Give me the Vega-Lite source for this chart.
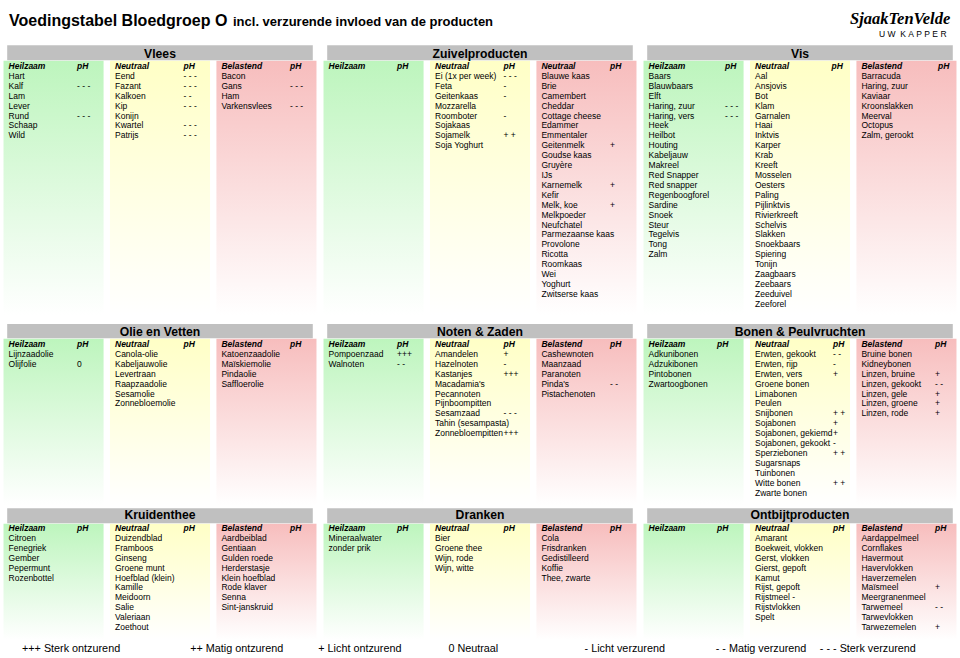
{
"$schema":"https://vega.github.io/schema/vega-lite/v6.json",
"padding":0,
"bounds":"flush",
"background":"#ffffff",
"spacing":0,
"config":{"view":{"stroke":null},"axis":{"disable":true},"legend":{"disable":true},"text":{"font":"Liberation Sans","color":"#000000"}},
"datasets":{
"titels":[
{"part":"titel","t":"Voedingstabel Bloedgroep O"},
{"part":"sub","t":"incl. verzurende invloed van de producten"},
{"part":"logo","t":"SjaakTenVelde"},
{"part":"kapper","t":"U\u00a0W\u00a0\u00a0K\u00a0A\u00a0P\u00a0P\u00a0E\u00a0R"}
],
"legenda":[
{"label":"+++ Sterk ontzurend"},
{"label":"++ Matig ontzurend"},
{"label":"+ Licht ontzurend"},
{"label":"0 Neutraal"},
{"label":"- Licht verzurend"},
{"label":"- - Matig verzurend"},
{"label":"- - - Sterk verzurend"}
],
"heads":[
{"sec":"Vlees","kind":"Heilzaam","label":"Heilzaam"},{"sec":"Vlees","kind":"Neutraal","label":"Neutraal"},{"sec":"Vlees","kind":"Belastend","label":"Belastend"},
{"sec":"Zuivelproducten","kind":"Heilzaam","label":"Heilzaam"},{"sec":"Zuivelproducten","kind":"Neutraal","label":"Neutraal"},{"sec":"Zuivelproducten","kind":"Belastend","label":"Neutraal"},
{"sec":"Vis","kind":"Heilzaam","label":"Heilzaam"},{"sec":"Vis","kind":"Neutraal","label":"Neutraal"},{"sec":"Vis","kind":"Belastend","label":"Belastend"},
{"sec":"Olie en Vetten","kind":"Heilzaam","label":"Heilzaam"},{"sec":"Olie en Vetten","kind":"Neutraal","label":"Neutraal"},{"sec":"Olie en Vetten","kind":"Belastend","label":"Belastend"},
{"sec":"Noten & Zaden","kind":"Heilzaam","label":"Heilzaam"},{"sec":"Noten & Zaden","kind":"Neutraal","label":"Neutraal"},{"sec":"Noten & Zaden","kind":"Belastend","label":"Belastend"},
{"sec":"Bonen & Peulvruchten","kind":"Heilzaam","label":"Heilzaam"},{"sec":"Bonen & Peulvruchten","kind":"Neutraal","label":"Neutraal"},{"sec":"Bonen & Peulvruchten","kind":"Belastend","label":"Belastend"},
{"sec":"Kruidenthee","kind":"Heilzaam","label":"Heilzaam"},{"sec":"Kruidenthee","kind":"Neutraal","label":"Neutraal"},{"sec":"Kruidenthee","kind":"Belastend","label":"Belastend"},
{"sec":"Dranken","kind":"Heilzaam","label":"Heilzaam"},{"sec":"Dranken","kind":"Neutraal","label":"Neutraal"},{"sec":"Dranken","kind":"Belastend","label":"Belastend"},
{"sec":"Ontbijtproducten","kind":"Heilzaam","label":"Heilzaam"},{"sec":"Ontbijtproducten","kind":"Neutraal","label":"Neutraal"},{"sec":"Ontbijtproducten","kind":"Belastend","label":"Belastend"}
],
"items":[
{"sec":"Vlees","kind":"Heilzaam","i":0,"name":"Hart"},
{"sec":"Vlees","kind":"Heilzaam","i":1,"name":"Kalf","ph":"- - -"},
{"sec":"Vlees","kind":"Heilzaam","i":2,"name":"Lam"},
{"sec":"Vlees","kind":"Heilzaam","i":3,"name":"Lever"},
{"sec":"Vlees","kind":"Heilzaam","i":4,"name":"Rund","ph":"- - -"},
{"sec":"Vlees","kind":"Heilzaam","i":5,"name":"Schaap"},
{"sec":"Vlees","kind":"Heilzaam","i":6,"name":"Wild"},
{"sec":"Vlees","kind":"Neutraal","i":0,"name":"Eend","ph":"- - -"},
{"sec":"Vlees","kind":"Neutraal","i":1,"name":"Fazant","ph":"- - -"},
{"sec":"Vlees","kind":"Neutraal","i":2,"name":"Kalkoen","ph":"- -"},
{"sec":"Vlees","kind":"Neutraal","i":3,"name":"Kip","ph":"- - -"},
{"sec":"Vlees","kind":"Neutraal","i":4,"name":"Konijn"},
{"sec":"Vlees","kind":"Neutraal","i":5,"name":"Kwartel","ph":"- - -"},
{"sec":"Vlees","kind":"Neutraal","i":6,"name":"Patrijs","ph":"- - -"},
{"sec":"Vlees","kind":"Belastend","i":0,"name":"Bacon"},
{"sec":"Vlees","kind":"Belastend","i":1,"name":"Gans","ph":"- - -"},
{"sec":"Vlees","kind":"Belastend","i":2,"name":"Ham"},
{"sec":"Vlees","kind":"Belastend","i":3,"name":"Varkensvlees","ph":"- - -"},
{"sec":"Zuivelproducten","kind":"Neutraal","i":0,"name":"Ei (1x per week)","ph":"- - -"},
{"sec":"Zuivelproducten","kind":"Neutraal","i":1,"name":"Feta","ph":"-"},
{"sec":"Zuivelproducten","kind":"Neutraal","i":2,"name":"Geitenkaas","ph":"-"},
{"sec":"Zuivelproducten","kind":"Neutraal","i":3,"name":"Mozzarella"},
{"sec":"Zuivelproducten","kind":"Neutraal","i":4,"name":"Roomboter","ph":"-"},
{"sec":"Zuivelproducten","kind":"Neutraal","i":5,"name":"Sojakaas"},
{"sec":"Zuivelproducten","kind":"Neutraal","i":6,"name":"Sojamelk","ph":"+ +"},
{"sec":"Zuivelproducten","kind":"Neutraal","i":7,"name":"Soja Yoghurt"},
{"sec":"Zuivelproducten","kind":"Belastend","i":0,"name":"Blauwe kaas"},
{"sec":"Zuivelproducten","kind":"Belastend","i":1,"name":"Brie"},
{"sec":"Zuivelproducten","kind":"Belastend","i":2,"name":"Camembert"},
{"sec":"Zuivelproducten","kind":"Belastend","i":3,"name":"Cheddar"},
{"sec":"Zuivelproducten","kind":"Belastend","i":4,"name":"Cottage cheese"},
{"sec":"Zuivelproducten","kind":"Belastend","i":5,"name":"Edammer"},
{"sec":"Zuivelproducten","kind":"Belastend","i":6,"name":"Emmentaler"},
{"sec":"Zuivelproducten","kind":"Belastend","i":7,"name":"Geitenmelk","ph":"+"},
{"sec":"Zuivelproducten","kind":"Belastend","i":8,"name":"Goudse kaas"},
{"sec":"Zuivelproducten","kind":"Belastend","i":9,"name":"Gruyère"},
{"sec":"Zuivelproducten","kind":"Belastend","i":10,"name":"IJs"},
{"sec":"Zuivelproducten","kind":"Belastend","i":11,"name":"Karnemelk","ph":"+"},
{"sec":"Zuivelproducten","kind":"Belastend","i":12,"name":"Kefir"},
{"sec":"Zuivelproducten","kind":"Belastend","i":13,"name":"Melk, koe","ph":"+"},
{"sec":"Zuivelproducten","kind":"Belastend","i":14,"name":"Melkpoeder"},
{"sec":"Zuivelproducten","kind":"Belastend","i":15,"name":"Neufchatel"},
{"sec":"Zuivelproducten","kind":"Belastend","i":16,"name":"Parmezaanse kaas"},
{"sec":"Zuivelproducten","kind":"Belastend","i":17,"name":"Provolone"},
{"sec":"Zuivelproducten","kind":"Belastend","i":18,"name":"Ricotta"},
{"sec":"Zuivelproducten","kind":"Belastend","i":19,"name":"Roomkaas"},
{"sec":"Zuivelproducten","kind":"Belastend","i":20,"name":"Wei"},
{"sec":"Zuivelproducten","kind":"Belastend","i":21,"name":"Yoghurt"},
{"sec":"Zuivelproducten","kind":"Belastend","i":22,"name":"Zwitserse kaas"},
{"sec":"Vis","kind":"Heilzaam","i":0,"name":"Baars"},
{"sec":"Vis","kind":"Heilzaam","i":1,"name":"Blauwbaars"},
{"sec":"Vis","kind":"Heilzaam","i":2,"name":"Elft"},
{"sec":"Vis","kind":"Heilzaam","i":3,"name":"Haring, zuur","ph":"- - -"},
{"sec":"Vis","kind":"Heilzaam","i":4,"name":"Haring, vers","ph":"- - -"},
{"sec":"Vis","kind":"Heilzaam","i":5,"name":"Heek"},
{"sec":"Vis","kind":"Heilzaam","i":6,"name":"Heilbot"},
{"sec":"Vis","kind":"Heilzaam","i":7,"name":"Houting"},
{"sec":"Vis","kind":"Heilzaam","i":8,"name":"Kabeljauw"},
{"sec":"Vis","kind":"Heilzaam","i":9,"name":"Makreel"},
{"sec":"Vis","kind":"Heilzaam","i":10,"name":"Red Snapper"},
{"sec":"Vis","kind":"Heilzaam","i":11,"name":"Red snapper"},
{"sec":"Vis","kind":"Heilzaam","i":12,"name":"Regenboogforel"},
{"sec":"Vis","kind":"Heilzaam","i":13,"name":"Sardine"},
{"sec":"Vis","kind":"Heilzaam","i":14,"name":"Snoek"},
{"sec":"Vis","kind":"Heilzaam","i":15,"name":"Steur"},
{"sec":"Vis","kind":"Heilzaam","i":16,"name":"Tegelvis"},
{"sec":"Vis","kind":"Heilzaam","i":17,"name":"Tong"},
{"sec":"Vis","kind":"Heilzaam","i":18,"name":"Zalm"},
{"sec":"Vis","kind":"Neutraal","i":0,"name":"Aal"},
{"sec":"Vis","kind":"Neutraal","i":1,"name":"Ansjovis"},
{"sec":"Vis","kind":"Neutraal","i":2,"name":"Bot"},
{"sec":"Vis","kind":"Neutraal","i":3,"name":"Klam"},
{"sec":"Vis","kind":"Neutraal","i":4,"name":"Garnalen"},
{"sec":"Vis","kind":"Neutraal","i":5,"name":"Haai"},
{"sec":"Vis","kind":"Neutraal","i":6,"name":"Inktvis"},
{"sec":"Vis","kind":"Neutraal","i":7,"name":"Karper"},
{"sec":"Vis","kind":"Neutraal","i":8,"name":"Krab"},
{"sec":"Vis","kind":"Neutraal","i":9,"name":"Kreeft"},
{"sec":"Vis","kind":"Neutraal","i":10,"name":"Mosselen"},
{"sec":"Vis","kind":"Neutraal","i":11,"name":"Oesters"},
{"sec":"Vis","kind":"Neutraal","i":12,"name":"Paling"},
{"sec":"Vis","kind":"Neutraal","i":13,"name":"Pijlinktvis"},
{"sec":"Vis","kind":"Neutraal","i":14,"name":"Rivierkreeft"},
{"sec":"Vis","kind":"Neutraal","i":15,"name":"Schelvis"},
{"sec":"Vis","kind":"Neutraal","i":16,"name":"Slakken"},
{"sec":"Vis","kind":"Neutraal","i":17,"name":"Snoekbaars"},
{"sec":"Vis","kind":"Neutraal","i":18,"name":"Spiering"},
{"sec":"Vis","kind":"Neutraal","i":19,"name":"Tonijn"},
{"sec":"Vis","kind":"Neutraal","i":20,"name":"Zaagbaars"},
{"sec":"Vis","kind":"Neutraal","i":21,"name":"Zeebaars"},
{"sec":"Vis","kind":"Neutraal","i":22,"name":"Zeeduivel"},
{"sec":"Vis","kind":"Neutraal","i":23,"name":"Zeeforel"},
{"sec":"Vis","kind":"Belastend","i":0,"name":"Barracuda"},
{"sec":"Vis","kind":"Belastend","i":1,"name":"Haring, zuur"},
{"sec":"Vis","kind":"Belastend","i":2,"name":"Kaviaar"},
{"sec":"Vis","kind":"Belastend","i":3,"name":"Kroonslakken"},
{"sec":"Vis","kind":"Belastend","i":4,"name":"Meerval"},
{"sec":"Vis","kind":"Belastend","i":5,"name":"Octopus"},
{"sec":"Vis","kind":"Belastend","i":6,"name":"Zalm, gerookt"},
{"sec":"Olie en Vetten","kind":"Heilzaam","i":0,"name":"Lijnzaadolie"},
{"sec":"Olie en Vetten","kind":"Heilzaam","i":1,"name":"Olijfolie","ph":"0"},
{"sec":"Olie en Vetten","kind":"Neutraal","i":0,"name":"Canola-olie"},
{"sec":"Olie en Vetten","kind":"Neutraal","i":1,"name":"Kabeljauwolie"},
{"sec":"Olie en Vetten","kind":"Neutraal","i":2,"name":"Levertraan"},
{"sec":"Olie en Vetten","kind":"Neutraal","i":3,"name":"Raapzaadolie"},
{"sec":"Olie en Vetten","kind":"Neutraal","i":4,"name":"Sesamolie"},
{"sec":"Olie en Vetten","kind":"Neutraal","i":5,"name":"Zonnebloemolie"},
{"sec":"Olie en Vetten","kind":"Belastend","i":0,"name":"Katoenzaadolie"},
{"sec":"Olie en Vetten","kind":"Belastend","i":1,"name":"Maïskiemolie"},
{"sec":"Olie en Vetten","kind":"Belastend","i":2,"name":"Pindaolie"},
{"sec":"Olie en Vetten","kind":"Belastend","i":3,"name":"Saffloerolie"},
{"sec":"Noten & Zaden","kind":"Heilzaam","i":0,"name":"Pompoenzaad","ph":"+++"},
{"sec":"Noten & Zaden","kind":"Heilzaam","i":1,"name":"Walnoten","ph":"- -"},
{"sec":"Noten & Zaden","kind":"Neutraal","i":0,"name":"Amandelen","ph":"+"},
{"sec":"Noten & Zaden","kind":"Neutraal","i":1,"name":"Hazelnoten","ph":"-"},
{"sec":"Noten & Zaden","kind":"Neutraal","i":2,"name":"Kastanjes","ph":"+++"},
{"sec":"Noten & Zaden","kind":"Neutraal","i":3,"name":"Macadamia's"},
{"sec":"Noten & Zaden","kind":"Neutraal","i":4,"name":"Pecannoten"},
{"sec":"Noten & Zaden","kind":"Neutraal","i":5,"name":"Pijnboompitten"},
{"sec":"Noten & Zaden","kind":"Neutraal","i":6,"name":"Sesamzaad","ph":"- - -"},
{"sec":"Noten & Zaden","kind":"Neutraal","i":7,"name":"Tahin (sesampasta)"},
{"sec":"Noten & Zaden","kind":"Neutraal","i":8,"name":"Zonnebloempitten","ph":"+++"},
{"sec":"Noten & Zaden","kind":"Belastend","i":0,"name":"Cashewnoten"},
{"sec":"Noten & Zaden","kind":"Belastend","i":1,"name":"Maanzaad"},
{"sec":"Noten & Zaden","kind":"Belastend","i":2,"name":"Paranoten"},
{"sec":"Noten & Zaden","kind":"Belastend","i":3,"name":"Pinda's","ph":"- -"},
{"sec":"Noten & Zaden","kind":"Belastend","i":4,"name":"Pistachenoten"},
{"sec":"Bonen & Peulvruchten","kind":"Heilzaam","i":0,"name":"Adkunibonen"},
{"sec":"Bonen & Peulvruchten","kind":"Heilzaam","i":1,"name":"Adzukibonen"},
{"sec":"Bonen & Peulvruchten","kind":"Heilzaam","i":2,"name":"Pintobonen"},
{"sec":"Bonen & Peulvruchten","kind":"Heilzaam","i":3,"name":"Zwartoogbonen"},
{"sec":"Bonen & Peulvruchten","kind":"Neutraal","i":0,"name":"Erwten, gekookt","ph":"- -"},
{"sec":"Bonen & Peulvruchten","kind":"Neutraal","i":1,"name":"Erwten, rijp","ph":"-"},
{"sec":"Bonen & Peulvruchten","kind":"Neutraal","i":2,"name":"Erwten, vers","ph":"+"},
{"sec":"Bonen & Peulvruchten","kind":"Neutraal","i":3,"name":"Groene bonen"},
{"sec":"Bonen & Peulvruchten","kind":"Neutraal","i":4,"name":"Limabonen"},
{"sec":"Bonen & Peulvruchten","kind":"Neutraal","i":5,"name":"Peulen"},
{"sec":"Bonen & Peulvruchten","kind":"Neutraal","i":6,"name":"Snijbonen","ph":"+ +"},
{"sec":"Bonen & Peulvruchten","kind":"Neutraal","i":7,"name":"Sojabonen","ph":"+"},
{"sec":"Bonen & Peulvruchten","kind":"Neutraal","i":8,"name":"Sojabonen, gekiemd","ph":"+"},
{"sec":"Bonen & Peulvruchten","kind":"Neutraal","i":9,"name":"Sojabonen, gekookt","ph":"-"},
{"sec":"Bonen & Peulvruchten","kind":"Neutraal","i":10,"name":"Sperziebonen","ph":"+ +"},
{"sec":"Bonen & Peulvruchten","kind":"Neutraal","i":11,"name":"Sugarsnaps"},
{"sec":"Bonen & Peulvruchten","kind":"Neutraal","i":12,"name":"Tuinbonen"},
{"sec":"Bonen & Peulvruchten","kind":"Neutraal","i":13,"name":"Witte bonen","ph":"+ +"},
{"sec":"Bonen & Peulvruchten","kind":"Neutraal","i":14,"name":"Zwarte bonen"},
{"sec":"Bonen & Peulvruchten","kind":"Belastend","i":0,"name":"Bruine bonen"},
{"sec":"Bonen & Peulvruchten","kind":"Belastend","i":1,"name":"Kidneybonen"},
{"sec":"Bonen & Peulvruchten","kind":"Belastend","i":2,"name":"Linzen, bruine","ph":"+"},
{"sec":"Bonen & Peulvruchten","kind":"Belastend","i":3,"name":"Linzen, gekookt","ph":"- -"},
{"sec":"Bonen & Peulvruchten","kind":"Belastend","i":4,"name":"Linzen, gele","ph":"+"},
{"sec":"Bonen & Peulvruchten","kind":"Belastend","i":5,"name":"Linzen, groene","ph":"+"},
{"sec":"Bonen & Peulvruchten","kind":"Belastend","i":6,"name":"Linzen, rode","ph":"+"},
{"sec":"Kruidenthee","kind":"Heilzaam","i":0,"name":"Citroen"},
{"sec":"Kruidenthee","kind":"Heilzaam","i":1,"name":"Fenegriek"},
{"sec":"Kruidenthee","kind":"Heilzaam","i":2,"name":"Gember"},
{"sec":"Kruidenthee","kind":"Heilzaam","i":3,"name":"Pepermunt"},
{"sec":"Kruidenthee","kind":"Heilzaam","i":4,"name":"Rozenbottel"},
{"sec":"Kruidenthee","kind":"Neutraal","i":0,"name":"Duizendblad"},
{"sec":"Kruidenthee","kind":"Neutraal","i":1,"name":"Framboos"},
{"sec":"Kruidenthee","kind":"Neutraal","i":2,"name":"Ginseng"},
{"sec":"Kruidenthee","kind":"Neutraal","i":3,"name":"Groene munt"},
{"sec":"Kruidenthee","kind":"Neutraal","i":4,"name":"Hoefblad (klein)"},
{"sec":"Kruidenthee","kind":"Neutraal","i":5,"name":"Kamille"},
{"sec":"Kruidenthee","kind":"Neutraal","i":6,"name":"Meidoorn"},
{"sec":"Kruidenthee","kind":"Neutraal","i":7,"name":"Salie"},
{"sec":"Kruidenthee","kind":"Neutraal","i":8,"name":"Valeriaan"},
{"sec":"Kruidenthee","kind":"Neutraal","i":9,"name":"Zoethout"},
{"sec":"Kruidenthee","kind":"Belastend","i":0,"name":"Aardbeiblad"},
{"sec":"Kruidenthee","kind":"Belastend","i":1,"name":"Gentiaan"},
{"sec":"Kruidenthee","kind":"Belastend","i":2,"name":"Gulden roede"},
{"sec":"Kruidenthee","kind":"Belastend","i":3,"name":"Herderstasje"},
{"sec":"Kruidenthee","kind":"Belastend","i":4,"name":"Klein hoefblad"},
{"sec":"Kruidenthee","kind":"Belastend","i":5,"name":"Rode klaver"},
{"sec":"Kruidenthee","kind":"Belastend","i":6,"name":"Senna"},
{"sec":"Kruidenthee","kind":"Belastend","i":7,"name":"Sint-janskruid"},
{"sec":"Dranken","kind":"Heilzaam","i":0,"name":"Mineraalwater"},
{"sec":"Dranken","kind":"Heilzaam","i":1,"name":"zonder prik"},
{"sec":"Dranken","kind":"Neutraal","i":0,"name":"Bier"},
{"sec":"Dranken","kind":"Neutraal","i":1,"name":"Groene thee"},
{"sec":"Dranken","kind":"Neutraal","i":2,"name":"Wijn, rode"},
{"sec":"Dranken","kind":"Neutraal","i":3,"name":"Wijn, witte"},
{"sec":"Dranken","kind":"Belastend","i":0,"name":"Cola"},
{"sec":"Dranken","kind":"Belastend","i":1,"name":"Frisdranken"},
{"sec":"Dranken","kind":"Belastend","i":2,"name":"Gedistilleerd"},
{"sec":"Dranken","kind":"Belastend","i":3,"name":"Koffie"},
{"sec":"Dranken","kind":"Belastend","i":4,"name":"Thee, zwarte"},
{"sec":"Ontbijtproducten","kind":"Neutraal","i":0,"name":"Amarant"},
{"sec":"Ontbijtproducten","kind":"Neutraal","i":1,"name":"Boekweit, vlokken"},
{"sec":"Ontbijtproducten","kind":"Neutraal","i":2,"name":"Gerst, vlokken"},
{"sec":"Ontbijtproducten","kind":"Neutraal","i":3,"name":"Gierst, gepoft"},
{"sec":"Ontbijtproducten","kind":"Neutraal","i":4,"name":"Kamut"},
{"sec":"Ontbijtproducten","kind":"Neutraal","i":5,"name":"Rijst, gepoft"},
{"sec":"Ontbijtproducten","kind":"Neutraal","i":6,"name":"Rijstmeel\u00a0-"},
{"sec":"Ontbijtproducten","kind":"Neutraal","i":7,"name":"Rijstvlokken"},
{"sec":"Ontbijtproducten","kind":"Neutraal","i":8,"name":"Spelt"},
{"sec":"Ontbijtproducten","kind":"Belastend","i":0,"name":"Aardappelmeel"},
{"sec":"Ontbijtproducten","kind":"Belastend","i":1,"name":"Cornflakes"},
{"sec":"Ontbijtproducten","kind":"Belastend","i":2,"name":"Havermout"},
{"sec":"Ontbijtproducten","kind":"Belastend","i":3,"name":"Havervlokken"},
{"sec":"Ontbijtproducten","kind":"Belastend","i":4,"name":"Haverzemelen"},
{"sec":"Ontbijtproducten","kind":"Belastend","i":5,"name":"Maïsmeel","ph":"+"},
{"sec":"Ontbijtproducten","kind":"Belastend","i":6,"name":"Meergranenmeel"},
{"sec":"Ontbijtproducten","kind":"Belastend","i":7,"name":"Tarwemeel","ph":"- -"},
{"sec":"Ontbijtproducten","kind":"Belastend","i":8,"name":"Tarwevlokken"},
{"sec":"Ontbijtproducten","kind":"Belastend","i":9,"name":"Tarwezemelen","ph":"+"}
]
},
"vconcat":[
{"width":960,"height":45,"data":{"name":"titels"},
"layer":[
{"transform":[{"filter":"datum.part=='titel'"}],"mark":{"type":"text","fontSize":16,"fontWeight":"bold","align":"left","baseline":"alphabetic","dx":9,"dy":3.2},"encoding":{"x":{"field":"part","type":"nominal","scale":{"type":"point","domain":["titel","sub","logo","kapper"],"padding":0},"axis":null},"text":{"field":"t"}}},
{"transform":[{"filter":"datum.part=='sub'"}],"mark":{"type":"text","fontSize":13,"fontWeight":"bold","align":"left","baseline":"alphabetic","dx":-87,"dy":3.2},"encoding":{"x":{"field":"part","type":"nominal","scale":{"type":"point","domain":["titel","sub","logo","kapper"],"padding":0},"axis":null},"text":{"field":"t"}}},
{"transform":[{"filter":"datum.part=='logo'"}],"mark":{"type":"text","fontSize":16.5,"fontStyle":"italic","fontWeight":"bold","font":"Liberation Serif","align":"left","baseline":"alphabetic","dx":210,"dy":1},"encoding":{"x":{"field":"part","type":"nominal","scale":{"type":"point","domain":["titel","sub","logo","kapper"],"padding":0},"axis":null},"text":{"field":"t"}}},
{"transform":[{"filter":"datum.part=='kapper'"}],"mark":{"type":"text","fontSize":8.5,"align":"left","baseline":"alphabetic","dx":-81,"dy":14},"encoding":{"x":{"field":"part","type":"nominal","scale":{"type":"point","domain":["titel","sub","logo","kapper"],"padding":0},"axis":null},"text":{"field":"t"}}}
]},
{"width":960,"height":270,
"layer":[
{"data":{"name":"heads"},"transform":[{"filter":{"field":"sec","oneOf":["Vlees","Zuivelproducten","Vis"]}},{"filter":"datum.kind=='Heilzaam'"}],"mark":{"type":"bar","fill":{"gradient":"linear","x1":0,"y1":0,"x2":0,"y2":1,"stops":[{"offset":0,"color":"#bdf5bd"},{"offset":1,"color":"#ffffff"}]}},"encoding":{"x":{"field":"sec","type":"nominal","scale":{"type":"band","domain":["Vlees","Zuivelproducten","Vis"],"paddingInner":0,"paddingOuter":0},"axis":null},"xOffset":{"field":"kind","type":"nominal","scale":{"type":"band","domain":["Heilzaam","Neutraal","Belastend"],"paddingInner":0.06,"paddingOuter":0.033}},"y":{"datum":-1.55,"type":"quantitative","scale":{"domain":[-3.131,24.141],"reverse":true,"nice":false,"zero":false},"axis":null},"y2":{"datum":24.141}}},
{"data":{"name":"heads"},"transform":[{"filter":{"field":"sec","oneOf":["Vlees","Zuivelproducten","Vis"]}},{"filter":"datum.kind=='Neutraal'"}],"mark":{"type":"bar","fill":{"gradient":"linear","x1":0,"y1":0,"x2":0,"y2":1,"stops":[{"offset":0,"color":"#ffffc6"},{"offset":1,"color":"#ffffff"}]}},"encoding":{"x":{"field":"sec","type":"nominal","scale":{"type":"band","domain":["Vlees","Zuivelproducten","Vis"],"paddingInner":0,"paddingOuter":0},"axis":null},"xOffset":{"field":"kind","type":"nominal","scale":{"type":"band","domain":["Heilzaam","Neutraal","Belastend"],"paddingInner":0.06,"paddingOuter":0.033}},"y":{"datum":-1.55,"type":"quantitative","scale":{"domain":[-3.131,24.141],"reverse":true,"nice":false,"zero":false},"axis":null},"y2":{"datum":24.141}}},
{"data":{"name":"heads"},"transform":[{"filter":{"field":"sec","oneOf":["Vlees","Zuivelproducten","Vis"]}},{"filter":"datum.kind=='Belastend'"}],"mark":{"type":"bar","fill":{"gradient":"linear","x1":0,"y1":0,"x2":0,"y2":1,"stops":[{"offset":0,"color":"#f7bdbd"},{"offset":1,"color":"#ffffff"}]}},"encoding":{"x":{"field":"sec","type":"nominal","scale":{"type":"band","domain":["Vlees","Zuivelproducten","Vis"],"paddingInner":0,"paddingOuter":0},"axis":null},"xOffset":{"field":"kind","type":"nominal","scale":{"type":"band","domain":["Heilzaam","Neutraal","Belastend"],"paddingInner":0.06,"paddingOuter":0.033}},"y":{"datum":-1.55,"type":"quantitative","scale":{"domain":[-3.131,24.141],"reverse":true,"nice":false,"zero":false},"axis":null},"y2":{"datum":24.141}}},
{"data":{"name":"heads"},"transform":[{"filter":{"field":"sec","oneOf":["Vlees","Zuivelproducten","Vis"]}},{"filter":"datum.kind=='Heilzaam'"}],"mark":{"type":"bar","fill":"#c0c0c0","width":{"band":0.955}},"encoding":{"x":{"field":"sec","type":"nominal","scale":{"type":"band","domain":["Vlees","Zuivelproducten","Vis"],"paddingInner":0,"paddingOuter":0},"axis":null},"y":{"datum":-3.1,"type":"quantitative","scale":{"domain":[-3.131,24.141],"reverse":true,"nice":false,"zero":false},"axis":null},"y2":{"datum":-1.6}}},
{"data":{"name":"heads"},"transform":[{"filter":{"field":"sec","oneOf":["Vlees","Zuivelproducten","Vis"]}},{"filter":"datum.kind=='Heilzaam'"}],"mark":{"type":"text","fontSize":12.2,"fontWeight":"bold","align":"center","baseline":"middle"},"encoding":{"x":{"field":"sec","type":"nominal","scale":{"type":"band","domain":["Vlees","Zuivelproducten","Vis"],"paddingInner":0,"paddingOuter":0},"axis":null},"y":{"datum":-2.25,"type":"quantitative","scale":{"domain":[-3.131,24.141],"reverse":true,"nice":false,"zero":false},"axis":null},"text":{"field":"sec"}}},
{"data":{"name":"heads"},"transform":[{"filter":{"field":"sec","oneOf":["Vlees","Zuivelproducten","Vis"]}}],"mark":{"type":"text","fontSize":8.5,"fontWeight":"bold","fontStyle":"italic","align":"left","baseline":"middle","dx":-45},"encoding":{"x":{"field":"sec","type":"nominal","scale":{"type":"band","domain":["Vlees","Zuivelproducten","Vis"],"paddingInner":0,"paddingOuter":0},"axis":null},"xOffset":{"field":"kind","type":"nominal","scale":{"type":"band","domain":["Heilzaam","Neutraal","Belastend"],"paddingInner":0.06,"paddingOuter":0.033}},"y":{"datum":-1,"type":"quantitative","scale":{"domain":[-3.131,24.141],"reverse":true,"nice":false,"zero":false},"axis":null},"text":{"field":"label"}}},
{"data":{"name":"heads"},"transform":[{"filter":{"field":"sec","oneOf":["Vlees","Zuivelproducten","Vis"]}},{"filter":"datum.sec!='Vis'"}],"mark":{"type":"text","fontSize":8.5,"fontWeight":"bold","fontStyle":"italic","align":"left","baseline":"middle","dx":23.5},"encoding":{"x":{"field":"sec","type":"nominal","scale":{"type":"band","domain":["Vlees","Zuivelproducten","Vis"],"paddingInner":0,"paddingOuter":0},"axis":null},"xOffset":{"field":"kind","type":"nominal","scale":{"type":"band","domain":["Heilzaam","Neutraal","Belastend"],"paddingInner":0.06,"paddingOuter":0.033}},"y":{"datum":-1,"type":"quantitative","scale":{"domain":[-3.131,24.141],"reverse":true,"nice":false,"zero":false},"axis":null},"text":{"value":"pH"}}},
{"data":{"name":"heads"},"transform":[{"filter":"datum.sec=='Vis'"}],"mark":{"type":"text","fontSize":8.5,"fontWeight":"bold","fontStyle":"italic","align":"left","baseline":"middle","dx":31.5},"encoding":{"x":{"field":"sec","type":"nominal","scale":{"type":"band","domain":["Vlees","Zuivelproducten","Vis"],"paddingInner":0,"paddingOuter":0},"axis":null},"xOffset":{"field":"kind","type":"nominal","scale":{"type":"band","domain":["Heilzaam","Neutraal","Belastend"],"paddingInner":0.06,"paddingOuter":0.033}},"y":{"datum":-1,"type":"quantitative","scale":{"domain":[-3.131,24.141],"reverse":true,"nice":false,"zero":false},"axis":null},"text":{"value":"pH"}}},
{"data":{"name":"items"},"transform":[{"filter":{"field":"sec","oneOf":["Vlees","Zuivelproducten","Vis"]}}],"mark":{"type":"text","fontSize":8.5,"align":"left","baseline":"middle","dx":-45},"encoding":{"x":{"field":"sec","type":"nominal","scale":{"type":"band","domain":["Vlees","Zuivelproducten","Vis"],"paddingInner":0,"paddingOuter":0},"axis":null},"xOffset":{"field":"kind","type":"nominal","scale":{"type":"band","domain":["Heilzaam","Neutraal","Belastend"],"paddingInner":0.06,"paddingOuter":0.033}},"y":{"field":"i","type":"quantitative","scale":{"domain":[-3.131,24.141],"reverse":true,"nice":false,"zero":false},"axis":null},"text":{"field":"name"}}},
{"data":{"name":"items"},"transform":[{"filter":{"field":"sec","oneOf":["Vlees","Zuivelproducten"]}},{"filter":"datum.ph"}],"mark":{"type":"text","fontSize":8.5,"align":"left","baseline":"middle","dx":23.5},"encoding":{"x":{"field":"sec","type":"nominal","scale":{"type":"band","domain":["Vlees","Zuivelproducten","Vis"],"paddingInner":0,"paddingOuter":0},"axis":null},"xOffset":{"field":"kind","type":"nominal","scale":{"type":"band","domain":["Heilzaam","Neutraal","Belastend"],"paddingInner":0.06,"paddingOuter":0.033}},"y":{"field":"i","type":"quantitative","scale":{"domain":[-3.131,24.141],"reverse":true,"nice":false,"zero":false},"axis":null},"text":{"field":"ph"}}},
{"data":{"name":"items"},"transform":[{"filter":"datum.sec=='Vis' && datum.ph"}],"mark":{"type":"text","fontSize":8.5,"align":"left","baseline":"middle","dx":31.5},"encoding":{"x":{"field":"sec","type":"nominal","scale":{"type":"band","domain":["Vlees","Zuivelproducten","Vis"],"paddingInner":0,"paddingOuter":0},"axis":null},"xOffset":{"field":"kind","type":"nominal","scale":{"type":"band","domain":["Heilzaam","Neutraal","Belastend"],"paddingInner":0.06,"paddingOuter":0.033}},"y":{"field":"i","type":"quantitative","scale":{"domain":[-3.131,24.141],"reverse":true,"nice":false,"zero":false},"axis":null},"text":{"field":"ph"}}}
]},
{"width":960,"height":190,
"layer":[
{"data":{"name":"heads"},"transform":[{"filter":{"field":"sec","oneOf":["Olie en Vetten","Noten & Zaden","Bonen & Peulvruchten"]}},{"filter":"datum.kind=='Heilzaam'"}],"mark":{"type":"bar","fill":{"gradient":"linear","x1":0,"y1":0,"x2":0,"y2":1,"stops":[{"offset":0,"color":"#bdf5bd"},{"offset":1,"color":"#ffffff"}]}},"encoding":{"x":{"field":"sec","type":"nominal","scale":{"type":"band","domain":["Olie en Vetten","Noten & Zaden","Bonen & Peulvruchten"],"paddingInner":0,"paddingOuter":0},"axis":null},"xOffset":{"field":"kind","type":"nominal","scale":{"type":"band","domain":["Heilzaam","Neutraal","Belastend"],"paddingInner":0.06,"paddingOuter":0.033}},"y":{"datum":-1.55,"type":"quantitative","scale":{"domain":[-3.939,15.253],"reverse":true,"nice":false,"zero":false},"axis":null},"y2":{"datum":15.253}}},
{"data":{"name":"heads"},"transform":[{"filter":{"field":"sec","oneOf":["Olie en Vetten","Noten & Zaden","Bonen & Peulvruchten"]}},{"filter":"datum.kind=='Neutraal'"}],"mark":{"type":"bar","fill":{"gradient":"linear","x1":0,"y1":0,"x2":0,"y2":1,"stops":[{"offset":0,"color":"#ffffc6"},{"offset":1,"color":"#ffffff"}]}},"encoding":{"x":{"field":"sec","type":"nominal","scale":{"type":"band","domain":["Olie en Vetten","Noten & Zaden","Bonen & Peulvruchten"],"paddingInner":0,"paddingOuter":0},"axis":null},"xOffset":{"field":"kind","type":"nominal","scale":{"type":"band","domain":["Heilzaam","Neutraal","Belastend"],"paddingInner":0.06,"paddingOuter":0.033}},"y":{"datum":-1.55,"type":"quantitative","scale":{"domain":[-3.939,15.253],"reverse":true,"nice":false,"zero":false},"axis":null},"y2":{"datum":15.253}}},
{"data":{"name":"heads"},"transform":[{"filter":{"field":"sec","oneOf":["Olie en Vetten","Noten & Zaden","Bonen & Peulvruchten"]}},{"filter":"datum.kind=='Belastend'"}],"mark":{"type":"bar","fill":{"gradient":"linear","x1":0,"y1":0,"x2":0,"y2":1,"stops":[{"offset":0,"color":"#f7bdbd"},{"offset":1,"color":"#ffffff"}]}},"encoding":{"x":{"field":"sec","type":"nominal","scale":{"type":"band","domain":["Olie en Vetten","Noten & Zaden","Bonen & Peulvruchten"],"paddingInner":0,"paddingOuter":0},"axis":null},"xOffset":{"field":"kind","type":"nominal","scale":{"type":"band","domain":["Heilzaam","Neutraal","Belastend"],"paddingInner":0.06,"paddingOuter":0.033}},"y":{"datum":-1.55,"type":"quantitative","scale":{"domain":[-3.939,15.253],"reverse":true,"nice":false,"zero":false},"axis":null},"y2":{"datum":15.253}}},
{"data":{"name":"heads"},"transform":[{"filter":{"field":"sec","oneOf":["Olie en Vetten","Noten & Zaden","Bonen & Peulvruchten"]}},{"filter":"datum.kind=='Heilzaam'"}],"mark":{"type":"bar","fill":"#c0c0c0","width":{"band":0.955}},"encoding":{"x":{"field":"sec","type":"nominal","scale":{"type":"band","domain":["Olie en Vetten","Noten & Zaden","Bonen & Peulvruchten"],"paddingInner":0,"paddingOuter":0},"axis":null},"y":{"datum":-3.03,"type":"quantitative","scale":{"domain":[-3.939,15.253],"reverse":true,"nice":false,"zero":false},"axis":null},"y2":{"datum":-1.59}}},
{"data":{"name":"heads"},"transform":[{"filter":{"field":"sec","oneOf":["Olie en Vetten","Noten & Zaden","Bonen & Peulvruchten"]}},{"filter":"datum.kind=='Heilzaam'"}],"mark":{"type":"text","fontSize":12.2,"fontWeight":"bold","align":"center","baseline":"middle"},"encoding":{"x":{"field":"sec","type":"nominal","scale":{"type":"band","domain":["Olie en Vetten","Noten & Zaden","Bonen & Peulvruchten"],"paddingInner":0,"paddingOuter":0},"axis":null},"y":{"datum":-2.25,"type":"quantitative","scale":{"domain":[-3.939,15.253],"reverse":true,"nice":false,"zero":false},"axis":null},"text":{"field":"sec"}}},
{"data":{"name":"heads"},"transform":[{"filter":{"field":"sec","oneOf":["Olie en Vetten","Noten & Zaden","Bonen & Peulvruchten"]}}],"mark":{"type":"text","fontSize":8.5,"fontWeight":"bold","fontStyle":"italic","align":"left","baseline":"middle","dx":-45},"encoding":{"x":{"field":"sec","type":"nominal","scale":{"type":"band","domain":["Olie en Vetten","Noten & Zaden","Bonen & Peulvruchten"],"paddingInner":0,"paddingOuter":0},"axis":null},"xOffset":{"field":"kind","type":"nominal","scale":{"type":"band","domain":["Heilzaam","Neutraal","Belastend"],"paddingInner":0.06,"paddingOuter":0.033}},"y":{"datum":-1,"type":"quantitative","scale":{"domain":[-3.939,15.253],"reverse":true,"nice":false,"zero":false},"axis":null},"text":{"field":"label"}}},
{"data":{"name":"heads"},"transform":[{"filter":{"field":"sec","oneOf":["Olie en Vetten","Noten & Zaden","Bonen & Peulvruchten"]}},{"filter":"datum.sec!='Bonen & Peulvruchten' || datum.kind=='Heilzaam'"}],"mark":{"type":"text","fontSize":8.5,"fontWeight":"bold","fontStyle":"italic","align":"left","baseline":"middle","dx":23.5},"encoding":{"x":{"field":"sec","type":"nominal","scale":{"type":"band","domain":["Olie en Vetten","Noten & Zaden","Bonen & Peulvruchten"],"paddingInner":0,"paddingOuter":0},"axis":null},"xOffset":{"field":"kind","type":"nominal","scale":{"type":"band","domain":["Heilzaam","Neutraal","Belastend"],"paddingInner":0.06,"paddingOuter":0.033}},"y":{"datum":-1,"type":"quantitative","scale":{"domain":[-3.939,15.253],"reverse":true,"nice":false,"zero":false},"axis":null},"text":{"value":"pH"}}},
{"data":{"name":"heads"},"transform":[{"filter":"datum.sec=='Bonen & Peulvruchten' && datum.kind=='Neutraal'"}],"mark":{"type":"text","fontSize":8.5,"fontWeight":"bold","fontStyle":"italic","align":"left","baseline":"middle","dx":33},"encoding":{"x":{"field":"sec","type":"nominal","scale":{"type":"band","domain":["Olie en Vetten","Noten & Zaden","Bonen & Peulvruchten"],"paddingInner":0,"paddingOuter":0},"axis":null},"xOffset":{"field":"kind","type":"nominal","scale":{"type":"band","domain":["Heilzaam","Neutraal","Belastend"],"paddingInner":0.06,"paddingOuter":0.033}},"y":{"datum":-1,"type":"quantitative","scale":{"domain":[-3.939,15.253],"reverse":true,"nice":false,"zero":false},"axis":null},"text":{"value":"pH"}}},
{"data":{"name":"heads"},"transform":[{"filter":"datum.sec=='Bonen & Peulvruchten' && datum.kind=='Belastend'"}],"mark":{"type":"text","fontSize":8.5,"fontWeight":"bold","fontStyle":"italic","align":"left","baseline":"middle","dx":28.5},"encoding":{"x":{"field":"sec","type":"nominal","scale":{"type":"band","domain":["Olie en Vetten","Noten & Zaden","Bonen & Peulvruchten"],"paddingInner":0,"paddingOuter":0},"axis":null},"xOffset":{"field":"kind","type":"nominal","scale":{"type":"band","domain":["Heilzaam","Neutraal","Belastend"],"paddingInner":0.06,"paddingOuter":0.033}},"y":{"datum":-1,"type":"quantitative","scale":{"domain":[-3.939,15.253],"reverse":true,"nice":false,"zero":false},"axis":null},"text":{"value":"pH"}}},
{"data":{"name":"items"},"transform":[{"filter":{"field":"sec","oneOf":["Olie en Vetten","Noten & Zaden","Bonen & Peulvruchten"]}}],"mark":{"type":"text","fontSize":8.5,"align":"left","baseline":"middle","dx":-45},"encoding":{"x":{"field":"sec","type":"nominal","scale":{"type":"band","domain":["Olie en Vetten","Noten & Zaden","Bonen & Peulvruchten"],"paddingInner":0,"paddingOuter":0},"axis":null},"xOffset":{"field":"kind","type":"nominal","scale":{"type":"band","domain":["Heilzaam","Neutraal","Belastend"],"paddingInner":0.06,"paddingOuter":0.033}},"y":{"field":"i","type":"quantitative","scale":{"domain":[-3.939,15.253],"reverse":true,"nice":false,"zero":false},"axis":null},"text":{"field":"name"}}},
{"data":{"name":"items"},"transform":[{"filter":{"field":"sec","oneOf":["Olie en Vetten","Noten & Zaden","Bonen & Peulvruchten"]}},{"filter":"datum.ph && (datum.sec!='Bonen & Peulvruchten' || datum.kind=='Heilzaam')"}],"mark":{"type":"text","fontSize":8.5,"align":"left","baseline":"middle","dx":23.5},"encoding":{"x":{"field":"sec","type":"nominal","scale":{"type":"band","domain":["Olie en Vetten","Noten & Zaden","Bonen & Peulvruchten"],"paddingInner":0,"paddingOuter":0},"axis":null},"xOffset":{"field":"kind","type":"nominal","scale":{"type":"band","domain":["Heilzaam","Neutraal","Belastend"],"paddingInner":0.06,"paddingOuter":0.033}},"y":{"field":"i","type":"quantitative","scale":{"domain":[-3.939,15.253],"reverse":true,"nice":false,"zero":false},"axis":null},"text":{"field":"ph"}}},
{"data":{"name":"items"},"transform":[{"filter":"datum.ph && datum.sec=='Bonen & Peulvruchten' && datum.kind=='Neutraal'"}],"mark":{"type":"text","fontSize":8.5,"align":"left","baseline":"middle","dx":33},"encoding":{"x":{"field":"sec","type":"nominal","scale":{"type":"band","domain":["Olie en Vetten","Noten & Zaden","Bonen & Peulvruchten"],"paddingInner":0,"paddingOuter":0},"axis":null},"xOffset":{"field":"kind","type":"nominal","scale":{"type":"band","domain":["Heilzaam","Neutraal","Belastend"],"paddingInner":0.06,"paddingOuter":0.033}},"y":{"field":"i","type":"quantitative","scale":{"domain":[-3.939,15.253],"reverse":true,"nice":false,"zero":false},"axis":null},"text":{"field":"ph"}}},
{"data":{"name":"items"},"transform":[{"filter":"datum.ph && datum.sec=='Bonen & Peulvruchten' && datum.kind=='Belastend'"}],"mark":{"type":"text","fontSize":8.5,"align":"left","baseline":"middle","dx":28.5},"encoding":{"x":{"field":"sec","type":"nominal","scale":{"type":"band","domain":["Olie en Vetten","Noten & Zaden","Bonen & Peulvruchten"],"paddingInner":0,"paddingOuter":0},"axis":null},"xOffset":{"field":"kind","type":"nominal","scale":{"type":"band","domain":["Heilzaam","Neutraal","Belastend"],"paddingInner":0.06,"paddingOuter":0.033}},"y":{"field":"i","type":"quantitative","scale":{"domain":[-3.939,15.253],"reverse":true,"nice":false,"zero":false},"axis":null},"text":{"field":"ph"}}}
]},
{"width":960,"height":135,
"layer":[
{"data":{"name":"heads"},"transform":[{"filter":{"field":"sec","oneOf":["Kruidenthee","Dranken","Ontbijtproducten"]}},{"filter":"datum.kind=='Heilzaam'"}],"mark":{"type":"bar","fill":{"gradient":"linear","x1":0,"y1":0,"x2":0,"y2":1,"stops":[{"offset":0,"color":"#bdf5bd"},{"offset":1,"color":"#ffffff"}]}},"encoding":{"x":{"field":"sec","type":"nominal","scale":{"type":"band","domain":["Kruidenthee","Dranken","Ontbijtproducten"],"paddingInner":0,"paddingOuter":0},"axis":null},"xOffset":{"field":"kind","type":"nominal","scale":{"type":"band","domain":["Heilzaam","Neutraal","Belastend"],"paddingInner":0.06,"paddingOuter":0.033}},"y":{"datum":-1.45,"type":"quantitative","scale":{"domain":[-3.333,10.303],"reverse":true,"nice":false,"zero":false},"axis":null},"y2":{"datum":10.303}}},
{"data":{"name":"heads"},"transform":[{"filter":{"field":"sec","oneOf":["Kruidenthee","Dranken","Ontbijtproducten"]}},{"filter":"datum.kind=='Neutraal'"}],"mark":{"type":"bar","fill":{"gradient":"linear","x1":0,"y1":0,"x2":0,"y2":1,"stops":[{"offset":0,"color":"#ffffc6"},{"offset":1,"color":"#ffffff"}]}},"encoding":{"x":{"field":"sec","type":"nominal","scale":{"type":"band","domain":["Kruidenthee","Dranken","Ontbijtproducten"],"paddingInner":0,"paddingOuter":0},"axis":null},"xOffset":{"field":"kind","type":"nominal","scale":{"type":"band","domain":["Heilzaam","Neutraal","Belastend"],"paddingInner":0.06,"paddingOuter":0.033}},"y":{"datum":-1.45,"type":"quantitative","scale":{"domain":[-3.333,10.303],"reverse":true,"nice":false,"zero":false},"axis":null},"y2":{"datum":10.303}}},
{"data":{"name":"heads"},"transform":[{"filter":{"field":"sec","oneOf":["Kruidenthee","Dranken","Ontbijtproducten"]}},{"filter":"datum.kind=='Belastend'"}],"mark":{"type":"bar","fill":{"gradient":"linear","x1":0,"y1":0,"x2":0,"y2":1,"stops":[{"offset":0,"color":"#f7bdbd"},{"offset":1,"color":"#ffffff"}]}},"encoding":{"x":{"field":"sec","type":"nominal","scale":{"type":"band","domain":["Kruidenthee","Dranken","Ontbijtproducten"],"paddingInner":0,"paddingOuter":0},"axis":null},"xOffset":{"field":"kind","type":"nominal","scale":{"type":"band","domain":["Heilzaam","Neutraal","Belastend"],"paddingInner":0.06,"paddingOuter":0.033}},"y":{"datum":-1.45,"type":"quantitative","scale":{"domain":[-3.333,10.303],"reverse":true,"nice":false,"zero":false},"axis":null},"y2":{"datum":10.303}}},
{"data":{"name":"heads"},"transform":[{"filter":{"field":"sec","oneOf":["Kruidenthee","Dranken","Ontbijtproducten"]}},{"filter":"datum.kind=='Heilzaam'"}],"mark":{"type":"bar","fill":"#c0c0c0","width":{"band":0.955}},"encoding":{"x":{"field":"sec","type":"nominal","scale":{"type":"band","domain":["Kruidenthee","Dranken","Ontbijtproducten"],"paddingInner":0,"paddingOuter":0},"axis":null},"y":{"datum":-3.0,"type":"quantitative","scale":{"domain":[-3.333,10.303],"reverse":true,"nice":false,"zero":false},"axis":null},"y2":{"datum":-1.5}}},
{"data":{"name":"heads"},"transform":[{"filter":{"field":"sec","oneOf":["Kruidenthee","Dranken","Ontbijtproducten"]}},{"filter":"datum.kind=='Heilzaam'"}],"mark":{"type":"text","fontSize":12.2,"fontWeight":"bold","align":"center","baseline":"middle"},"encoding":{"x":{"field":"sec","type":"nominal","scale":{"type":"band","domain":["Kruidenthee","Dranken","Ontbijtproducten"],"paddingInner":0,"paddingOuter":0},"axis":null},"y":{"datum":-2.3,"type":"quantitative","scale":{"domain":[-3.333,10.303],"reverse":true,"nice":false,"zero":false},"axis":null},"text":{"field":"sec"}}},
{"data":{"name":"heads"},"transform":[{"filter":{"field":"sec","oneOf":["Kruidenthee","Dranken","Ontbijtproducten"]}}],"mark":{"type":"text","fontSize":8.5,"fontWeight":"bold","fontStyle":"italic","align":"left","baseline":"middle","dx":-45},"encoding":{"x":{"field":"sec","type":"nominal","scale":{"type":"band","domain":["Kruidenthee","Dranken","Ontbijtproducten"],"paddingInner":0,"paddingOuter":0},"axis":null},"xOffset":{"field":"kind","type":"nominal","scale":{"type":"band","domain":["Heilzaam","Neutraal","Belastend"],"paddingInner":0.06,"paddingOuter":0.033}},"y":{"datum":-0.98,"type":"quantitative","scale":{"domain":[-3.333,10.303],"reverse":true,"nice":false,"zero":false},"axis":null},"text":{"field":"label"}}},
{"data":{"name":"heads"},"transform":[{"filter":{"field":"sec","oneOf":["Kruidenthee","Dranken","Ontbijtproducten"]}},{"filter":"datum.sec!='Ontbijtproducten' || datum.kind=='Heilzaam'"}],"mark":{"type":"text","fontSize":8.5,"fontWeight":"bold","fontStyle":"italic","align":"left","baseline":"middle","dx":23.5},"encoding":{"x":{"field":"sec","type":"nominal","scale":{"type":"band","domain":["Kruidenthee","Dranken","Ontbijtproducten"],"paddingInner":0,"paddingOuter":0},"axis":null},"xOffset":{"field":"kind","type":"nominal","scale":{"type":"band","domain":["Heilzaam","Neutraal","Belastend"],"paddingInner":0.06,"paddingOuter":0.033}},"y":{"datum":-0.98,"type":"quantitative","scale":{"domain":[-3.333,10.303],"reverse":true,"nice":false,"zero":false},"axis":null},"text":{"value":"pH"}}},
{"data":{"name":"heads"},"transform":[{"filter":"datum.sec=='Ontbijtproducten' && datum.kind=='Neutraal'"}],"mark":{"type":"text","fontSize":8.5,"fontWeight":"bold","fontStyle":"italic","align":"left","baseline":"middle","dx":33},"encoding":{"x":{"field":"sec","type":"nominal","scale":{"type":"band","domain":["Kruidenthee","Dranken","Ontbijtproducten"],"paddingInner":0,"paddingOuter":0},"axis":null},"xOffset":{"field":"kind","type":"nominal","scale":{"type":"band","domain":["Heilzaam","Neutraal","Belastend"],"paddingInner":0.06,"paddingOuter":0.033}},"y":{"datum":-0.98,"type":"quantitative","scale":{"domain":[-3.333,10.303],"reverse":true,"nice":false,"zero":false},"axis":null},"text":{"value":"pH"}}},
{"data":{"name":"heads"},"transform":[{"filter":"datum.sec=='Ontbijtproducten' && datum.kind=='Belastend'"}],"mark":{"type":"text","fontSize":8.5,"fontWeight":"bold","fontStyle":"italic","align":"left","baseline":"middle","dx":28.5},"encoding":{"x":{"field":"sec","type":"nominal","scale":{"type":"band","domain":["Kruidenthee","Dranken","Ontbijtproducten"],"paddingInner":0,"paddingOuter":0},"axis":null},"xOffset":{"field":"kind","type":"nominal","scale":{"type":"band","domain":["Heilzaam","Neutraal","Belastend"],"paddingInner":0.06,"paddingOuter":0.033}},"y":{"datum":-0.98,"type":"quantitative","scale":{"domain":[-3.333,10.303],"reverse":true,"nice":false,"zero":false},"axis":null},"text":{"value":"pH"}}},
{"data":{"name":"items"},"transform":[{"filter":{"field":"sec","oneOf":["Kruidenthee","Dranken","Ontbijtproducten"]}}],"mark":{"type":"text","fontSize":8.5,"align":"left","baseline":"middle","dx":-45},"encoding":{"x":{"field":"sec","type":"nominal","scale":{"type":"band","domain":["Kruidenthee","Dranken","Ontbijtproducten"],"paddingInner":0,"paddingOuter":0},"axis":null},"xOffset":{"field":"kind","type":"nominal","scale":{"type":"band","domain":["Heilzaam","Neutraal","Belastend"],"paddingInner":0.06,"paddingOuter":0.033}},"y":{"field":"i","type":"quantitative","scale":{"domain":[-3.333,10.303],"reverse":true,"nice":false,"zero":false},"axis":null},"text":{"field":"name"}}},
{"data":{"name":"items"},"transform":[{"filter":"datum.ph && datum.sec=='Ontbijtproducten' && datum.kind=='Belastend'"}],"mark":{"type":"text","fontSize":8.5,"align":"left","baseline":"middle","dx":28.5},"encoding":{"x":{"field":"sec","type":"nominal","scale":{"type":"band","domain":["Kruidenthee","Dranken","Ontbijtproducten"],"paddingInner":0,"paddingOuter":0},"axis":null},"xOffset":{"field":"kind","type":"nominal","scale":{"type":"band","domain":["Heilzaam","Neutraal","Belastend"],"paddingInner":0.06,"paddingOuter":0.033}},"y":{"field":"i","type":"quantitative","scale":{"domain":[-3.333,10.303],"reverse":true,"nice":false,"zero":false},"axis":null},"text":{"field":"ph"}}}
]},
{"width":960,"height":18,"data":{"name":"legenda"},
"layer":[
{"transform":[{"filter":"datum.label=='+++ Sterk ontzurend'"}],"mark":{"type":"text","fontSize":10.8,"align":"left","baseline":"middle","dx":22},"encoding":{"x":{"field":"label","type":"nominal","sort":null,"scale":{"type":"band","domain":["+++ Sterk ontzurend","++ Matig ontzurend","+ Licht ontzurend","0 Neutraal","- Licht verzurend","- - Matig verzurend","- - - Sterk verzurend"],"paddingInner":0,"paddingOuter":0},"bandPosition":0,"axis":null},"text":{"field":"label"}}},
{"transform":[{"filter":"datum.label=='++ Matig ontzurend'"}],"mark":{"type":"text","fontSize":10.8,"align":"left","baseline":"middle","dx":53},"encoding":{"x":{"field":"label","type":"nominal","sort":null,"scale":{"type":"band","domain":["+++ Sterk ontzurend","++ Matig ontzurend","+ Licht ontzurend","0 Neutraal","- Licht verzurend","- - Matig verzurend","- - - Sterk verzurend"],"paddingInner":0,"paddingOuter":0},"bandPosition":0,"axis":null},"text":{"field":"label"}}},
{"transform":[{"filter":"datum.label=='+ Licht ontzurend'"}],"mark":{"type":"text","fontSize":10.8,"align":"left","baseline":"middle","dx":44},"encoding":{"x":{"field":"label","type":"nominal","sort":null,"scale":{"type":"band","domain":["+++ Sterk ontzurend","++ Matig ontzurend","+ Licht ontzurend","0 Neutraal","- Licht verzurend","- - Matig verzurend","- - - Sterk verzurend"],"paddingInner":0,"paddingOuter":0},"bandPosition":0,"axis":null},"text":{"field":"label"}}},
{"transform":[{"filter":"datum.label=='0 Neutraal'"}],"mark":{"type":"text","fontSize":10.8,"align":"left","baseline":"middle","dx":37},"encoding":{"x":{"field":"label","type":"nominal","sort":null,"scale":{"type":"band","domain":["+++ Sterk ontzurend","++ Matig ontzurend","+ Licht ontzurend","0 Neutraal","- Licht verzurend","- - Matig verzurend","- - - Sterk verzurend"],"paddingInner":0,"paddingOuter":0},"bandPosition":0,"axis":null},"text":{"field":"label"}}},
{"transform":[{"filter":"datum.label=='- Licht verzurend'"}],"mark":{"type":"text","fontSize":10.8,"align":"left","baseline":"middle","dx":36},"encoding":{"x":{"field":"label","type":"nominal","sort":null,"scale":{"type":"band","domain":["+++ Sterk ontzurend","++ Matig ontzurend","+ Licht ontzurend","0 Neutraal","- Licht verzurend","- - Matig verzurend","- - - Sterk verzurend"],"paddingInner":0,"paddingOuter":0},"bandPosition":0,"axis":null},"text":{"field":"label"}}},
{"transform":[{"filter":"datum.label=='- - Matig verzurend'"}],"mark":{"type":"text","fontSize":10.8,"align":"left","baseline":"middle","dx":30},"encoding":{"x":{"field":"label","type":"nominal","sort":null,"scale":{"type":"band","domain":["+++ Sterk ontzurend","++ Matig ontzurend","+ Licht ontzurend","0 Neutraal","- Licht verzurend","- - Matig verzurend","- - - Sterk verzurend"],"paddingInner":0,"paddingOuter":0},"bandPosition":0,"axis":null},"text":{"field":"label"}}},
{"transform":[{"filter":"datum.label=='- - - Sterk verzurend'"}],"mark":{"type":"text","fontSize":10.8,"align":"left","baseline":"middle","dx":-3},"encoding":{"x":{"field":"label","type":"nominal","sort":null,"scale":{"type":"band","domain":["+++ Sterk ontzurend","++ Matig ontzurend","+ Licht ontzurend","0 Neutraal","- Licht verzurend","- - Matig verzurend","- - - Sterk verzurend"],"paddingInner":0,"paddingOuter":0},"bandPosition":0,"axis":null},"text":{"field":"label"}}}
]}
]
}
